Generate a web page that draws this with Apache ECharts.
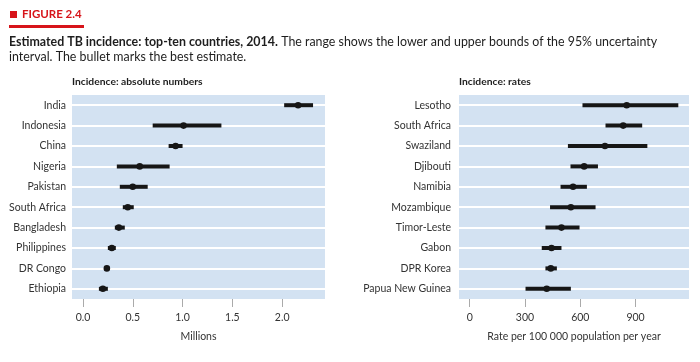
<!DOCTYPE html>
<html>
<head>
<meta charset="utf-8">
<script src="https://cdn.jsdelivr.net/npm/echarts@6/dist/echarts.min.js"></script>
<style>html,body{margin:0;padding:0;background:#fff;}#c{width:700px;height:362px;}</style>
</head>
<body>
<div id="c"></div>
<script>
// Left panel: absolute numbers (millions)
const leftCountries = ['India','Indonesia','China','Nigeria','Pakistan','South Africa','Bangladesh','Philippines','DR Congo','Ethiopia'];
const leftLow  = [2.02, 0.70, 0.86, 0.34, 0.37, 0.40, 0.32, 0.25, 0.22, 0.16];
const leftBest = [2.16, 1.01, 0.93, 0.57, 0.50, 0.45, 0.36, 0.29, 0.24, 0.20];
const leftHigh = [2.31, 1.39, 1.00, 0.87, 0.65, 0.51, 0.42, 0.33, 0.26, 0.25];
const leftTicks = [0, 0.5, 1.0, 1.5, 2.0];

// Right panel: rates per 100 000 population per year
const rightCountries = ['Lesotho','South Africa','Swaziland','Djibouti','Namibia','Mozambique','Timor-Leste','Gabon','DPR Korea','Papua New Guinea'];
const rightLow  = [612, 737, 533, 547, 493, 436, 411, 391, 411, 303];
const rightBest = [852, 833, 734, 621, 561, 549, 498, 444, 440, 418];
const rightHigh = [1132, 936, 964, 696, 636, 683, 596, 498, 473, 549];
const rightTicks = [0, 300, 600, 900];

const FONT = 'Lato';
const chart = echarts.init(document.getElementById('c'), null, {renderer:'canvas'});

function rows(low, best, high){
  return low.map((l,i)=>[i, l, best[i], high[i]]);
}
function renderItem(params, api){
  const idx = api.value(0);
  const p1 = api.coord([api.value(1), idx]);
  const p2 = api.coord([api.value(2), idx]);
  const p3 = api.coord([api.value(3), idx]);
  return {type:'group', children:[
    {type:'line', shape:{x1:p1[0], y1:p1[1], x2:p3[0], y2:p3[1]}, style:{stroke:'#161616', lineWidth:4}},
    {type:'circle', shape:{cx:p2[0], cy:p2[1], r:3.3}, style:{fill:'#161616'}}
  ]};
}
function yAxisDef(grid, cats, margin){
  return {type:'category', gridIndex:grid, data:cats, inverse:true, boundaryGap:true,
    axisLine:{show:false}, axisTick:{show:false}, splitLine:{show:false},
    axisLabel:{color:'#333', fontFamily:FONT, fontSize:10.5, margin:margin}};
}
function xAxisDef(grid, min, max, ticks, name, fmt){
  return {type:'value', gridIndex:grid, min:min, max:max,
    name:name, nameLocation:'middle', nameGap:32,
    nameTextStyle:{color:'#333', fontFamily:FONT, fontSize:10.5},
    axisLine:{show:false}, splitLine:{show:false},
    axisTick:{show:true, length:8, customValues:ticks, lineStyle:{color:'#aaaaaa', width:1}},
    axisLabel:{color:'#333', fontFamily:FONT, fontSize:10.5, margin:13, customValues:ticks, formatter:fmt}};
}
function gridLines(xi, yi, cats){
  return {type:'scatter', xAxisIndex:xi, yAxisIndex:yi, data:[], z:1, silent:true,
    markLine:{silent:true, symbol:'none', z:1, animation:false,
      label:{show:false}, lineStyle:{color:'#ffffff', width:2, type:'solid'},
      data:cats.map(c=>({yAxis:c}))}};
}

chart.setOption({
  animation:false,
  textStyle:{fontFamily:FONT},
  grid:[
    {left:72, right:375, top:95, bottom:63, show:true, backgroundColor:'#d3e2f2', borderWidth:0},
    {left:459, right:11, top:95, bottom:63, show:true, backgroundColor:'#d3e2f2', borderWidth:0}
  ],
  xAxis:[
    xAxisDef(0, -0.11, 2.43, leftTicks, 'Millions', v=>v.toFixed(1)),
    xAxisDef(1, -58, 1190, rightTicks, 'Rate per 100 000 population per year', v=>String(v))
  ],
  yAxis:[ yAxisDef(0, leftCountries, 6), yAxisDef(1, rightCountries, 8) ],
  graphic:[
    {type:'rect', left:10, top:11, shape:{width:7, height:7}, style:{fill:'#d7141a'}},
    {type:'text', left:22, top:8, style:{text:'FIGURE 2.4', fill:'#d7141a', font:'bold 11.5px '+FONT}},
    {type:'rect', left:9, top:25, shape:{width:75, height:3}, style:{fill:'#d7141a'}},
    {type:'text', left:9, top:36, style:{
      text:'{b|Estimated TB incidence: top-ten countries, 2014.} {n|The range shows the lower and upper bounds of the 95% uncertainty}\n{n|interval. The bullet marks the best estimate.}',
      rich:{b:{font:'bold 12.4px '+FONT, fill:'#1e1e1e', lineHeight:15}, n:{font:'12.4px '+FONT, fill:'#1e1e1e', lineHeight:15}}
    }},
    {type:'text', left:72, top:77, style:{text:'Incidence: absolute numbers', fill:'#1e1e1e', font:'bold 10.3px '+FONT}},
    {type:'text', left:459, top:77, style:{text:'Incidence: rates', fill:'#1e1e1e', font:'bold 10.3px '+FONT}}
  ],
  series:[
    gridLines(0,0,leftCountries),
    gridLines(1,1,rightCountries),
    {type:'custom', xAxisIndex:0, yAxisIndex:0, z:5, renderItem:renderItem,
      encode:{y:0, x:[1,2,3]}, data:rows(leftLow,leftBest,leftHigh)},
    {type:'custom', xAxisIndex:1, yAxisIndex:1, z:5, renderItem:renderItem,
      encode:{y:0, x:[1,2,3]}, data:rows(rightLow,rightBest,rightHigh)}
  ]
});
</script>
</body>
</html>
